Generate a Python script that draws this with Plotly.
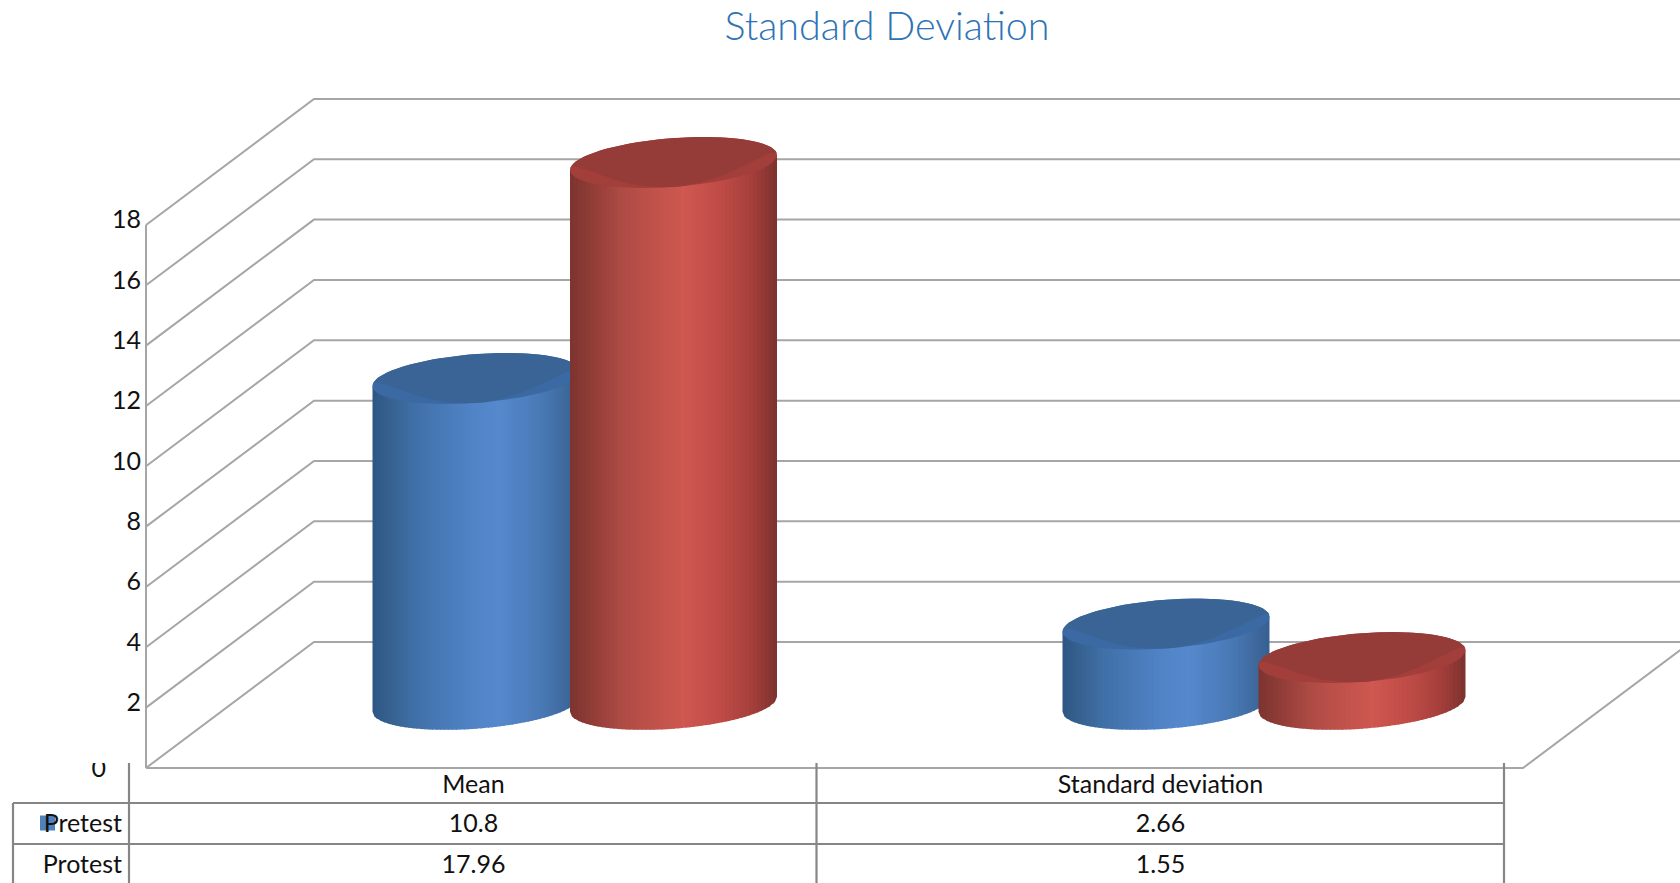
import math
import plotly.graph_objects as go

categories = ["Mean", "Standard deviation"]
pretest = [10.8, 2.66]
protest = [17.96, 1.55]
series_names = ["Pretest", "Protest"]
value_ticks = [0, 2, 4, 6, 8, 10, 12, 14, 16, 18]
title_text = "Standard Deviation"

W, H = 1680, 883
PX = 30.17            # pixels per value unit
FLOOR_PX = 768        # pixel row of value 0 on the front edge
DEPTH_X, DEPTH_Y = 168, 126 / PX
WALL_L = 146
FRONT_R = 1523
BASE = 2.11           # cylinder base centre, in value units above the front edge
A = 103.5
B = 24.4 / PX
TILT = 7.5 / PX
CENTERS = [[476, 673.5], [1166, 1362]]
GRID = "#a6a6a6"
TABLE = "#868686"
TEXT = "#111111"
FONT = "Lato"

BLUE = [(0, "#2d5684"), (.08, "#36618f"), (.2, "#4070a8"), (.5, "#5285c8"),
        (.62, "#5588cc"), (.82, "#4979b4"), (1, "#375f90")]
RED = [(0, "#7c342f"), (.08, "#8c3a35"), (.25, "#ae4b45"), (.55, "#cf5850"),
       (.72, "#c04c47"), (.88, "#a53f3b"), (1, "#7c322f")]
CAP = {"b": ("#3a69a3", "#3a6495"), "r": ("#a33f3b", "#953b38")}


def ramp(stops, f):
    for (f0, c0), (f1, c1) in zip(stops, stops[1:]):
        if f <= f1:
            k = (f - f0) / (f1 - f0)
            a = [int(c0[i:i + 2], 16) for i in (1, 3, 5)]
            b = [int(c1[i:i + 2], 16) for i in (1, 3, 5)]
            return "rgb(%d,%d,%d)" % tuple(round(p + (q - p) * k) for p, q in zip(a, b))
    return stops[-1][1]


def edge(u, sign, centre):
    return centre + TILT * u + sign * B * max(0, 1 - u * u) ** .5


fig = go.Figure()


def line(xs, ys, color=GRID, width=2, yaxis="y"):
    fig.add_trace(go.Scatter(x=xs, y=ys, mode="lines", yaxis=yaxis, hoverinfo="skip",
                             showlegend=False, line=dict(color=color, width=width)))


# walls and floor
for v in value_ticks:
    line([WALL_L, WALL_L + DEPTH_X, W], [v, v + DEPTH_Y, v + DEPTH_Y])
line([WALL_L, WALL_L], [0, value_ticks[-1]])
line([WALL_L, FRONT_R, FRONT_R + DEPTH_X], [0, 0, DEPTH_Y])


def ellipse(cx, cy, a, b, tilt, n=72):
    xs, ys = [], []
    for i in range(n + 1):
        t = 2 * math.pi * i / n
        xs.append(cx + a * math.cos(t))
        ys.append(cy + tilt * math.cos(t) + b * math.sin(t))
    return xs, ys


def face(cx, cy, n=60):
    """Darker lens of the cap: outer top arc, with a lower arc that leaves a crescent rim."""
    us = [math.cos(math.pi * i / n) for i in range(n + 1)]
    xs = [cx + A * u for u in us]
    ys = [edge(u, 1, cy) for u in us]
    for u in us[::-1]:
        xs.append(cx + A * u)
        ys.append(edge(u, 1, cy) - 2 * B * (1 - u * u))
    return xs, ys


def cylinder(cx, value, stops, caps):
    top = BASE + value
    n = 52
    for i in range(n):
        x0 = cx - A + 2 * A * i / n
        x1 = cx - A + 2 * A * (i + 1) / n
        xs, lo = [], []
        for x in (x0, (x0 + x1) / 2, x1, min(x1 + 1, cx + A)):
            xs.append(x)
            lo.append(edge((x - cx) / A, -1, BASE))
        hi = [top + TILT * (x - cx) / A for x in xs]
        fig.add_trace(go.Scatter(x=xs + xs[::-1], y=lo + hi[::-1], mode="lines", fill="toself",
                                 fillcolor=ramp(stops, (i + .5) / n), line=dict(width=0),
                                 hoverinfo="skip", showlegend=False))
    for (xs, ys), col in ((ellipse(cx, top, A, B, TILT), caps[0]), (face(cx, top), caps[1])):
        fig.add_trace(go.Scatter(x=xs, y=ys, mode="lines", fill="toself", fillcolor=col,
                                 line=dict(width=0), hoverinfo="skip", showlegend=False))


for i in range(len(categories)):
    cylinder(CENTERS[i][0], pretest[i], BLUE, CAP["b"])
    cylinder(CENTERS[i][1], protest[i], RED, CAP["r"])

font = dict(family=FONT, size=25, color=TEXT)

# value labels: the zero label sits apart from the others in the reference
others = value_ticks[1:]
fig.add_trace(go.Scatter(x=[141] * len(others), y=[v + 3 / PX for v in others],
                         text=[str(v) for v in others], mode="text",
                         textposition="middle left", hoverinfo="skip", showlegend=False,
                         textfont=font))
fig.add_trace(go.Scatter(x=[106], y=[value_ticks[0] - 3 / PX], text=[str(value_ticks[0])], mode="text",
                         textposition="middle left", hoverinfo="skip", showlegend=False,
                         textfont=font))

# data table, on a pixel axis
COLS = [129, 816.5, 1504]
ROWS = [803, 844]
for x in COLS:
    line([x, x], [763, H], TABLE, 2.2, "y2")
line([13, 13], [ROWS[0], H], TABLE, 2.2, "y2")
for y in ROWS:
    line([13, COLS[-1]], [y, y], TABLE, 2.2, "y2")
fig.add_trace(go.Scatter(x=[47.5], y=[823], mode="markers", yaxis="y2", hoverinfo="skip",
                         showlegend=False, marker=dict(symbol="square", size=15, color="#4f81bd")))
CX = [473.5, 1160.5]
RY = [825.5, 867]
fig.add_trace(go.Scatter(x=CX, y=[786.5, 786.5], text=categories, mode="text", yaxis="y2",
                         textposition="middle center", textfont=font, hoverinfo="skip", showlegend=False))
for values, y in zip((pretest, protest), RY):
    fig.add_trace(go.Scatter(x=CX, y=[y, y], text=[str(v) for v in values], mode="text", yaxis="y2",
                             textposition="middle center", textfont=font, hoverinfo="skip", showlegend=False))
fig.add_trace(go.Scatter(x=[122, 122], y=RY, text=series_names, mode="text", yaxis="y2",
                         textposition="middle left", textfont=font, hoverinfo="skip", showlegend=False))

fig.update_layout(
    width=W, height=H, margin=dict(l=0, r=0, t=0, b=0),
    paper_bgcolor="white", plot_bgcolor="white", showlegend=False,
    title=dict(text=title_text, x=887 / W, xanchor="center", y=1 - 26 / H, yanchor="middle",
               font=dict(family=FONT, size=39.5, color="#2e74b5", weight=300)),
    xaxis=dict(range=[0, W], visible=False, fixedrange=True),
    yaxis=dict(range=[-(H - FLOOR_PX) / PX, FLOOR_PX / PX], visible=False, fixedrange=True),
    yaxis2=dict(range=[H, 0], overlaying="y", visible=False, fixedrange=True),
    shapes=[dict(type="rect", xref="x", yref="y2", x0=85, x1=127, y0=740, y1=763,
                 fillcolor="white", line=dict(width=0), layer="above")],
)
fig.write_html("out.html", config=dict(displayModeBar=False),
               post_script="document.body.style.margin='0';document.body.style.overflow='hidden';")
